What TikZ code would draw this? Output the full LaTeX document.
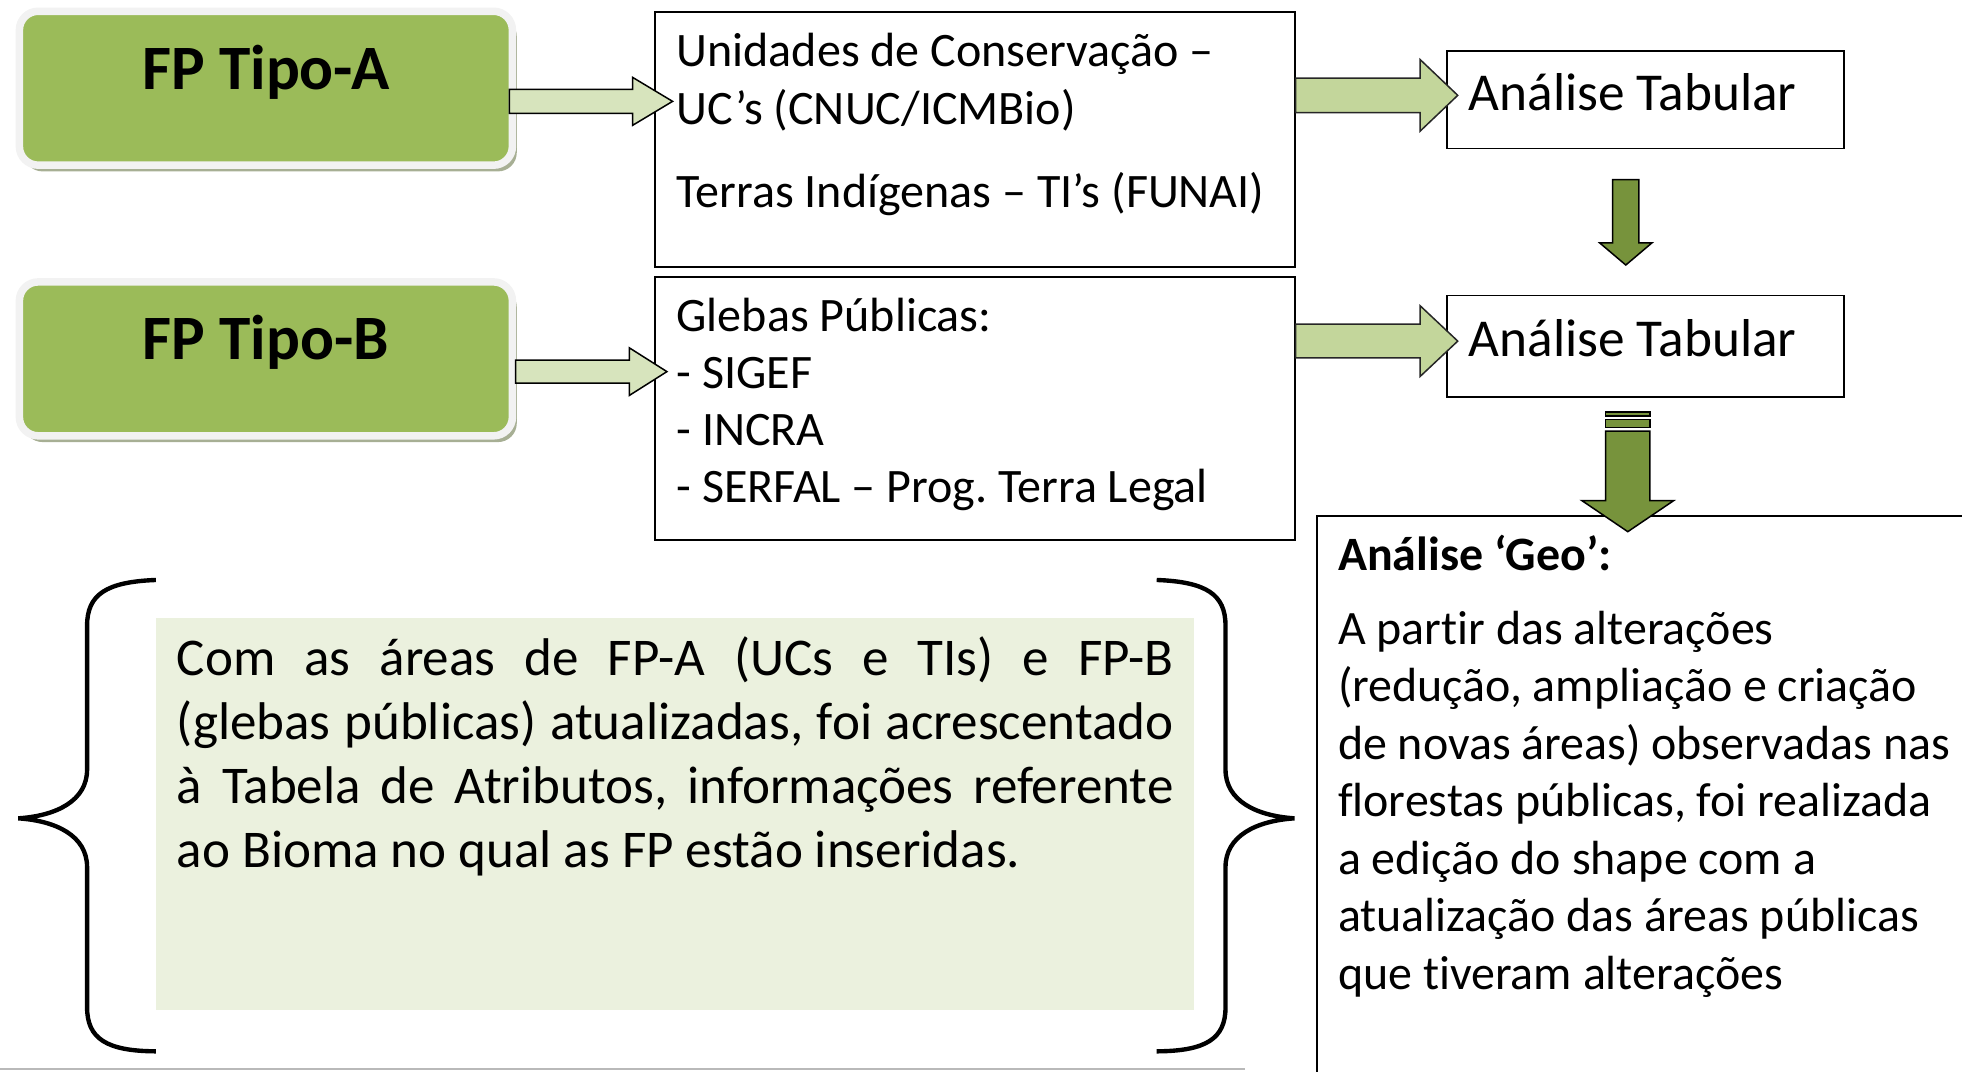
\documentclass[tikz,border=0pt]{standalone}
\usepackage{fontspec}
\setmainfont{Carlito}[Ligatures={TeX,NoCommon}]
\usetikzlibrary{calc,shadows}
\frenchspacing
\definecolor{fpgreen}{HTML}{9BBB59}
\definecolor{framegray}{HTML}{F2F2F2}
\definecolor{shadowcol}{HTML}{A7AF94}
\definecolor{lightarrow}{HTML}{D7E4BD}
\definecolor{midarrow}{HTML}{C3D69B}
\definecolor{darkarrow}{HTML}{77933C}
\definecolor{notefill}{HTML}{EBF1DE}
\newcommand\fs[2]{\fontsize{#1pt}{#2pt}\selectfont}
\newcommand\boxtext[4]{\parbox[t][#1][t]{#2}{\raggedright\leftskip=17pt\rule{0pt}{#3}#4}}
\newcommand\hblock[6]{\path[#1] let \p1=#2, \p2=#3 in (\x1,\y2+#4) -- (\x2-#6,\y2+#4) -- (\x2-#6,\y2+#5) -- (\x2,\y2) -- (\x2-#6,\y2-#5) -- (\x2-#6,\y2-#4) -- (\x1,\y2-#4) -- cycle;}
\newcommand\vblock[6]{\path[#1] let \p1=#2, \p2=#3 in (\x2-#4,\y1) -- (\x2-#4,\y2+#6) -- (\x2-#5,\y2+#6) -- (\x2,\y2) -- (\x2+#5,\y2+#6) -- (\x2+#4,\y2+#6) -- (\x2+#4,\y1) -- cycle;}
\tikzset{
  fpbox/.style={fill=fpgreen, draw=framegray, line width=6pt, rounded corners=15pt,
    minimum width=394pt, minimum height=123pt, inner sep=0pt,
    font=\bfseries\fs{50.5}{60}, text height=35pt, text depth=33.2pt,
    drop shadow={shadow xshift=3.5pt, shadow yshift=-5pt, fill=shadowcol, opacity=1}},
  tbox/.style={draw=black, line width=1.4pt, inner sep=0pt, anchor=north west},
  lightblk/.style={fill=lightarrow, draw=black, line width=1.2pt, line join=miter},
  midblk/.style={fill=midarrow, draw=black!85, line width=1.2pt, line join=miter},
  darkblk/.style={fill=darkarrow, draw=black, line width=1.2pt, line join=miter},
  brace/.style={draw=black, line width=3.5pt}
}
\begin{document}
\begin{tikzpicture}[x=1pt, y=-1pt]
\useasboundingbox (0,0) rectangle (1568,856);
\clip (0,0) rectangle (1568,856);

% FP boxes
\node[fpbox] (fpa) at (212.5,70.5) {FP Tipo-A};
\node[fpbox] (fpb) at (212.5,286.8) {FP Tipo-B};

% source boxes
\node[tbox, font=\fs{38.4}{45.7}] (uc) at (523,8.6)
  {\boxtext{204pt}{511pt}{44.2pt}{Unidades de Conservação –\\UC’s (CNUC/ICMBio)\\[21.3pt]Terras Indígenas – TI’s (FUNAI)}};
\node[tbox, font=\fs{38.4}{45.7}] (gl) at (523,220.6)
  {\boxtext{210.4pt}{511pt}{43.4pt}{Glebas Públicas:\\- SIGEF\\- INCRA\\- SERFAL – Prog. Terra Legal}};

% tabular boxes
\node[tbox, font=\fs{42.6}{48}] (tab1) at (1156,40) {\boxtext{77.9pt}{317pt}{47.6pt}{Análise Tabular}};
\node[tbox, font=\fs{42.6}{48}] (tab2) at (1156,235.5) {\boxtext{81.3pt}{317pt}{48.5pt}{Análise Tabular}};

% geo box
\node[tbox, font=\fs{38.3}{45.9}] (geo) at (1051.7,411.8)
  {\boxtext{520pt}{600pt}{43.2pt}{\textbf{Análise ‘Geo’:}\\[13.4pt]A partir das alterações\\(redução, ampliação e criação\\de novas áreas) observadas nas\\florestas públicas, foi realizada\\a edição do shape com a\\atualização das áreas públicas\\que tiveram alterações}};

% note
\node[fill=notefill, inner xsep=16.5pt, inner ysep=0pt, anchor=north west, font=\fs{42.4}{51}] (note) at (124.6,493.3)
  {\parbox[t][313.9pt][t]{796.6pt}{\hyphenpenalty=10000 \exhyphenpenalty=10000 \rule{0pt}{46.5pt}Com as áreas de FP-A (UCs e TIs) e FP-B\linebreak (glebas públicas) atualizadas, foi acrescentado\linebreak à Tabela de Atributos, informações referente\linebreak ao Bioma no qual as FP estão inseridas.}};

% braces
\path[brace] (124.6,463.5) .. controls (85,465) and (69.6,475) .. (69.6,500) -- (69.6,615)
  .. controls (69.6,640) and (45,652) .. (14.6,654) .. controls (45,656) and (69.6,668) .. (69.6,693)
  -- (69.6,805) .. controls (69.6,830) and (85,840) .. (124.6,840.2);
\path[brace] (924.4,463.5) .. controls (964,465) and (979.4,475) .. (979.4,500) -- (979.4,615)
  .. controls (979.4,640) and (1004,652) .. (1034.4,654) .. controls (1004,656) and (979.4,668) .. (979.4,693)
  -- (979.4,805) .. controls (979.4,830) and (964,840) .. (924.4,840.2);

% block arrows
\hblock{lightblk}{($(fpa.east)+(-5.5,10.5)$)}{($(uc.north west)+(14.5,72.4)$)}{9.6}{19.2}{32}
\hblock{lightblk}{($(fpb.east)+(-0.5,10.2)$)}{($(gl.north west)+(10,76.4)$)}{9.2}{19}{30}
\hblock{midblk}{($(uc.north east)+(0,67.6)$)}{($(tab1.north west)+(9,36.2)$)}{13.85}{28.55}{30}
\hblock{midblk}{($(gl.north east)+(0,52)$)}{($(tab2.north west)+(9,37.1)$)}{13.5}{28.2}{30}
\vblock{darkblk}{($(tab1.south west)+(143.3,24.2)$)}{($(tab2.north west)+(143.3,-23.7)$)}{10.5}{20.9}{17.7}
\path[darkblk] ($(tab2.south west)+(127.2,10.9)$) rectangle ++(35.4,3.4);
\path[darkblk] ($(tab2.south west)+(127.2,17)$) rectangle ++(35.4,6.4);
\vblock{darkblk}{($(tab2.south west)+(144.9,26.3)$)}{($(geo.north west)+(249.2,13.1)$)}{17.7}{36.65}{24.8}

% bottom edge line
\draw[gray!55, line width=1.5pt] (0,854.5) -- (995,854.5);
\end{tikzpicture}
\end{document}
